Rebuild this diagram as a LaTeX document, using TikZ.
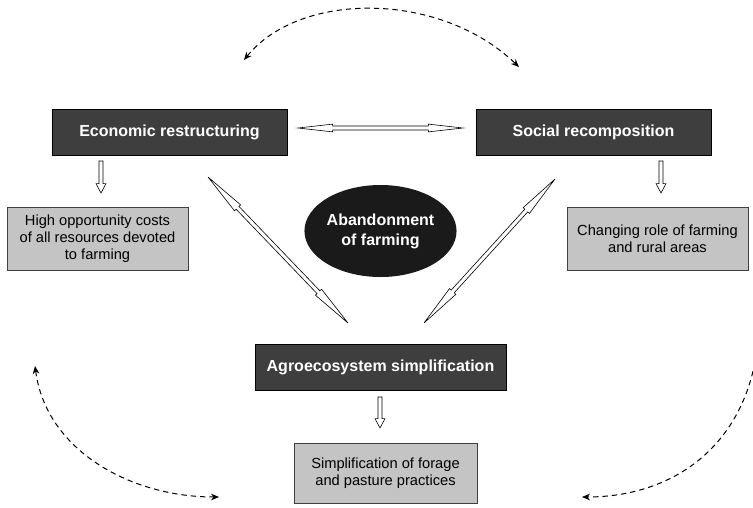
\documentclass[tikz,border=0pt]{standalone}
\usepackage{fontspec}
\setmainfont{Liberation Sans}
\usetikzlibrary{positioning,calc}
\usetikzlibrary{arrows.meta,shapes.geometric}
\definecolor{BoxDark}{RGB}{62,62,62}
\definecolor{BoxLight}{RGB}{196,196,196}
\definecolor{CoreBlack}{RGB}{26,26,26}
\tikzset{
  drive/.style={draw=black,fill=BoxDark,text=white,font=\fontsize{12}{14.5}\selectfont\bfseries,
    minimum width=176pt,minimum height=34.5pt,inner sep=0pt},
  effect/.style={draw=black!75,fill=BoxLight,font=\fontsize{11}{12.75}\selectfont,align=center,
    minimum width=136pt,minimum height=47pt,inner sep=0pt},
  core/.style={ellipse,fill=CoreBlack,text=white,font=\fontsize{12}{15}\selectfont\bfseries,align=center,
    minimum width=85pt,minimum height=69pt,inner sep=0pt},
}
\tikzset{blockline/.style={draw=black,fill=white,line width=0.45pt,line join=miter},
  loop/.style={draw=black,line width=0.75pt,dash pattern=on 4pt off 3pt,{Stealth[length=6pt,width=5pt]}-{Stealth[length=6pt,width=5pt]}},
  loopend/.style={draw=black,line width=0.75pt,dash pattern=on 4pt off 3pt,-{Stealth[length=6pt,width=5pt]}}}
\newcommand\shaft{1.5pt}
% hollow arrow from #1 to #2, head length #3, head half width #4
\newcommand\onearrow[4]{%
  \coordinate (hb) at ($(#2)!#3!(#1)$);
  \draw[blockline] ($(#1)!\shaft!90:(#2)$) -- ($(hb)!\shaft!-90:(#1)$) -- ($(hb)!#4!-90:(#1)$) -- (#2)
    -- ($(hb)!#4!90:(#1)$) -- ($(hb)!\shaft!90:(#1)$) -- ($(#1)!\shaft!-90:(#2)$) -- cycle;}
% hollow arrow with a head at both ends
\newcommand\twoarrow[4]{%
  \coordinate (ha) at ($(#1)!#3!(#2)$);
  \coordinate (hb) at ($(#2)!#3!(#1)$);
  \draw[blockline] (#1) -- ($(ha)!#4!90:(#2)$) -- ($(ha)!\shaft!90:(#2)$) -- ($(hb)!\shaft!-90:(#1)$)
    -- ($(hb)!#4!-90:(#1)$) -- (#2) -- ($(hb)!#4!90:(#1)$) -- ($(hb)!\shaft!90:(#1)$)
    -- ($(ha)!\shaft!-90:(#2)$) -- ($(ha)!#4!-90:(#2)$) -- cycle;}

\begin{document}
\begin{tikzpicture}[x=0.75pt,y=-0.75pt]
\useasboundingbox (0,0) rectangle (753,507);
% main drivers
\node[drive] (econ) at (169.5,132) {Economic restructuring};
\node[drive] (social) at (593.5,132) {Social recomposition};
\node[drive,minimum width=188pt] (agro) at (380.5,367) {Agroecosystem simplification};
\node[core] (aband) at (380.5,231) {Abandonment\\of farming};
% effects
\node[effect] (high) at (97.5,238.5) {High opportunity costs\\of all resources devoted\\to farming};
\node[effect] (change) at (657.5,238.5) {Changing role of farming\\and rural areas};
\node[effect,minimum width=137pt,minimum height=45pt] (simp) at (385.5,473) {Simplification of forage\\and pasture practices};
% hollow arrows
\coordinate (h1) at (298,128);
\coordinate (h2) at (463,128);
\twoarrow{h1}{h2}{26pt}{2.9pt}
\coordinate (e1) at (101,161);
\coordinate (e2) at (101,193);
\onearrow{e1}{e2}{7pt}{3.7pt}
\coordinate (s1) at (661,161);
\coordinate (s2) at (661,193);
\onearrow{s1}{s2}{7pt}{3.7pt}
\coordinate (a1) at (380,397);
\coordinate (a2) at (380,428);
\onearrow{a1}{a2}{7pt}{3.7pt}
\coordinate (dl1) at (208,177);
\coordinate (dl2) at (348,323);
\coordinate (dr1) at (555,179);
\coordinate (dr2) at (424,323);
\twoarrow{dl1}{dl2}{32pt}{3.2pt}
\twoarrow{dr1}{dr2}{32pt}{3.2pt}
% dashed loops
\coordinate (tl) at (244,60);
\coordinate (tr) at (519,67);
\coordinate (bl1) at (35,366);
\coordinate (bl2) at (219,497);
\coordinate (br1) at (755,362);
\coordinate (br2) at (582,497);
\draw[loop] (tl) .. controls (300,-9) and (440,-9) .. (tr);
\draw[loop] (bl1) .. controls (46,450) and (130,497) .. (bl2);
\draw[loopend] (br1) .. controls (738,450) and (670,497) .. (br2);
\end{tikzpicture}
\end{document}
